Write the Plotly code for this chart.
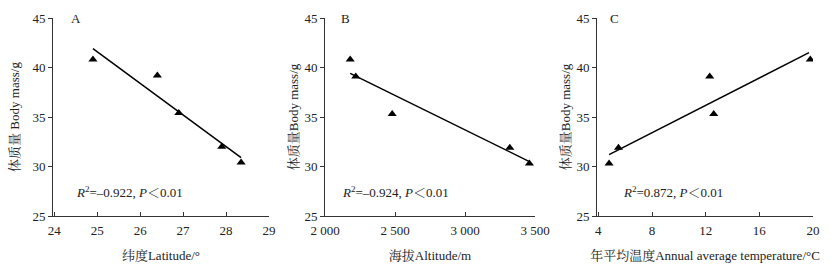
import plotly.graph_objects as go

# Panel A: latitude
lat = [24.9, 26.4, 26.9, 27.9, 28.35]
mass_a = [40.8, 39.2, 35.4, 32.0, 30.4]
fit_a_x = [24.9, 28.35]
fit_a_y = [41.9, 30.9]

# Panel B: altitude
alt = [2180, 2220, 2480, 3320, 3460]
mass_b = [40.8, 39.1, 35.3, 31.9, 30.3]
fit_b_x = [2180, 3460]
fit_b_y = [39.4, 30.5]

# Panel C: annual average temperature
temp = [4.8, 5.5, 12.3, 12.6, 19.8]
mass_c = [30.3, 31.9, 39.1, 35.3, 40.8]
fit_c_x = [4.8, 19.7]
fit_c_y = [31.2, 41.5]

y_ticks = [25, 30, 35, 40, 45]
a_ticks = [24, 25, 26, 27, 28, 29]
b_ticks = [2000, 2500, 3000, 3500]
b_labels = ["2 000", "2 500", "3 000", "3 500"]
c_ticks = [4, 8, 12, 16, 20]

FONT = "Liberation Serif, Times New Roman, Noto Serif CJK SC, Noto Sans CJK SC, serif"

W, H = 834, 280

fig = go.Figure()
panels = [
    (lat, mass_a, fit_a_x, fit_a_y, "x", "y"),
    (alt, mass_b, fit_b_x, fit_b_y, "x2", "y2"),
    (temp, mass_c, fit_c_x, fit_c_y, "x3", "y3"),
]
for xs, ys, fx, fy, xa, ya in panels:
    fig.add_trace(go.Scatter(x=xs, y=ys, mode="markers", xaxis=xa, yaxis=ya,
                             marker=dict(symbol="triangle-up", size=8, color="black"),
                             showlegend=False))
    fig.add_trace(go.Scatter(x=fx, y=fy, mode="lines", xaxis=xa, yaxis=ya,
                             line=dict(color="black", width=1.5), showlegend=False))

ydom = [1 - 216 / H, 1 - 18 / H]
axis_common = dict(showgrid=False, zeroline=False, showline=True, linecolor="#333",
                   linewidth=1, ticklen=4, tickcolor="#333", automargin=False,
                   tickfont=dict(family=FONT, size=13, color="#222"))

page_x = [[53, 269], [325, 535], [597, 813]]
xdoms = [[a / W, b / W] for a, b in page_x]
xranges = [[23.97, 29], [2000, 3500], [3.9, 20]]
xtitles = ["纬度Latitude/°", "海拔Altitude/m", "年平均温度Annual average temperature/°C"]
ytitles = ["体质量 Body mass/g", "体质量Body mass/g", "体质量Body mass/g"]
ystand = [9, 2, 2]
xtickv = [a_ticks, b_ticks, c_ticks]
xtickt = [[str(t) for t in a_ticks], b_labels, [str(t) for t in c_ticks]]

for i in range(3):
    sx = "" if i == 0 else str(i + 1)
    fig.update_layout(**{
        "xaxis" + sx: dict(domain=xdoms[i], range=xranges[i], anchor="y" + sx,
                           tickvals=xtickv[i], ticktext=xtickt[i], ticks="inside",
                           ticklabelstandoff=2,
                           title=dict(text=xtitles[i], standoff=14,
                                      font=dict(family=FONT, size=13, color="#222")),
                           **axis_common),
        "yaxis" + sx: dict(domain=ydom, range=[25, 45], anchor="x" + sx,
                           tickvals=y_ticks, ticks="outside",
                           title=dict(text=ytitles[i], standoff=ystand[i],
                                      font=dict(family=FONT, size=13, color="#222")),
                           **axis_common),
    })

letters = ["A", "B", "C"]
stats = ["<i>R</i><sup>2</sup>=–0.922, <i>P</i>＜0.01",
         "<i>R</i><sup>2</sup>=–0.924, <i>P</i>＜0.01",
         "<i>R</i><sup>2</sup>=0.872, <i>P</i>＜0.01"]
letter_x = [24.35, 2100, 4.7]
stat_x = [24.47, 2105, 5.7]
for i in range(3):
    sx = "" if i == 0 else str(i + 1)
    fig.add_annotation(x=letter_x[i], y=45, xref="x" + sx, yref="y" + sx,
                       text=letters[i], showarrow=False, xanchor="left", yanchor="middle",
                       font=dict(family=FONT, size=13, color="#222"))
    fig.add_annotation(x=stat_x[i], y=27.4, xref="x" + sx, yref="y" + sx,
                       text=stats[i], showarrow=False, xanchor="left", yanchor="middle",
                       font=dict(family=FONT, size=13, color="#222"))

fig.update_layout(width=W, height=H, margin=dict(l=0, r=0, t=0, b=0),
                  paper_bgcolor="white", plot_bgcolor="white")

fig.write_html("out.html", config={"displayModeBar": False},
               post_script="document.body.style.margin='0';document.body.style.overflow='hidden';")
